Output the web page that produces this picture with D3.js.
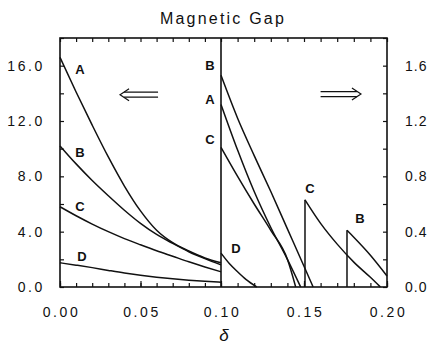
<!DOCTYPE html>
<html>
<head>
<meta charset="utf-8">
<script src="https://cdn.jsdelivr.net/npm/d3@7"></script>
<style>
  body { margin: 0; background: #fff; }
  svg text { font-family: "Liberation Sans", Arial, sans-serif; fill: #111; }
</style>
</head>
<body>
<div id="gapPlot"></div>
<script>
// Left panel (delta 0 - 0.10), left axis
const deltaLeft = [0, 0.01, 0.02, 0.03, 0.04, 0.05, 0.06, 0.07, 0.08, 0.09, 0.10];
const gapA = [16.6, 14.1, 11.7, 9.4, 7.3, 5.5, 4.1, 3.2, 2.6, 2.1, 1.75];
const gapB = [10.2, 8.9, 7.7, 6.6, 5.55, 4.6, 3.8, 3.15, 2.55, 2.05, 1.6];
const gapC = [5.8, 5.15, 4.55, 4.0, 3.5, 3.05, 2.62, 2.22, 1.82, 1.45, 1.1];
const gapD = [1.75, 1.58, 1.4, 1.2, 1.01, 0.85, 0.71, 0.59, 0.49, 0.41, 0.35];

// Right panel (delta 0.10 - 0.20), right axis
const deltaRightA = [0.10, 0.11, 0.12, 0.13, 0.14, 0.148];
const gapRightA = [1.32, 0.99, 0.69, 0.43, 0.2, 0.0];
const deltaRightB = [0.10, 0.11, 0.12, 0.13, 0.14, 0.15, 0.1555];
const gapRightB = [1.53, 1.22, 0.95, 0.69, 0.42, 0.15, 0.0];
const deltaRightC = [0.10, 0.11, 0.12, 0.13, 0.14, 0.145];
const gapRightC = [1.01, 0.8, 0.6, 0.41, 0.2, 0.0];
const deltaRightD = [0.10, 0.105, 0.11, 0.115, 0.1215];
const gapRightD = [0.245, 0.17, 0.11, 0.055, 0.0];
const deltaJumpC = [0.1506, 0.16, 0.17, 0.18, 0.19, 0.196];
const gapJumpC = [0.63, 0.46, 0.31, 0.18, 0.07, 0.0];
const deltaJumpB = [0.1759, 0.18, 0.19, 0.20];
const gapJumpB = [0.41, 0.36, 0.23, 0.08];

// Tick labels
const xTicks = [0, 0.05, 0.10, 0.15, 0.20];
const leftTicks = [0, 4, 8, 12, 16];
const rightTicks = [0, 0.4, 0.8, 1.2, 1.6];

const width = 429, height = 349;
const plot = { left: 60, top: 38, right: 387, bottom: 287 };

const svg = d3.select("#gapPlot")
  .append("svg")
  .attr("width", width)
  .attr("height", height);

// the scan is slightly uneven, so the x scale is piecewise
const x = d3.scaleLinear().domain([0, 0.1, 0.2]).range([plot.left, 221, plot.right]);
const yL = d3.scaleLinear().domain([0, 18]).range([plot.bottom, plot.top]);
const yR = d3.scaleLinear().domain([0, 1.8]).range([plot.bottom, plot.top]);

// title
svg.append("text")
  .attr("x", 223).attr("y", 24)
  .attr("text-anchor", "middle")
  .style("font-size", "16px")
  .style("letter-spacing", "2.2px")
  .text("Magnetic Gap");

// tick marks (inward) on all four sides
const minorX = d3.range(0, 0.2001, 0.01);
const minorL = d3.range(0, 18.01, 2);
const minorR = d3.range(0, 1.801, 0.2);

const tickAxis = (axis, transform) => {
  const g = svg.append("g").attr("transform", transform).call(axis);
  g.select(".domain").remove();
  g.selectAll("line").attr("stroke", "#111").attr("stroke-width", 1.2);
  g.selectAll("text").remove();
};
tickAxis(d3.axisBottom(x).tickValues(minorX).tickSize(-4), `translate(0,${plot.bottom})`);
tickAxis(d3.axisTop(x).tickValues(minorX).tickSize(-4), `translate(0,${plot.top})`);
tickAxis(d3.axisBottom(x).tickValues(xTicks).tickSize(-6), `translate(0,${plot.bottom})`);
tickAxis(d3.axisLeft(yL).tickValues(minorL).tickSize(-4), `translate(${plot.left},0)`);
tickAxis(d3.axisRight(yR).tickValues(minorR).tickSize(-4), `translate(${plot.right},0)`);

// tick labels
const labelAxis = (axis, transform, spacing) => {
  const g = svg.append("g").attr("transform", transform).call(axis);
  g.select(".domain").remove();
  g.selectAll("line").remove();
  g.selectAll("text")
    .attr("fill", "#111")
    .style("font-family", "'Liberation Sans', Arial, sans-serif")
    .style("font-size", "14px")
    .style("letter-spacing", spacing);
  return g;
};
labelAxis(d3.axisBottom(x).tickValues(xTicks).tickFormat(d3.format(".2f")).tickSize(0).tickPadding(20),
  `translate(1,${plot.bottom})`, "2.6px");
labelAxis(d3.axisLeft(yL).tickValues(leftTicks).tickFormat(d3.format(".1f")).tickSize(0).tickPadding(15),
  `translate(${plot.left},0)`, "2.6px");
labelAxis(d3.axisRight(yR).tickValues(rightTicks).tickFormat(d3.format(".1f")).tickSize(0).tickPadding(18),
  `translate(${plot.right},0)`, "1px");

// x axis title
svg.append("text")
  .attr("x", 224).attr("y", 341)
  .attr("text-anchor", "middle")
  .style("font-size", "17px")
  .style("font-style", "italic")
  .text("δ");

// frame and panel divider
svg.append("rect")
  .attr("x", plot.left).attr("y", plot.top)
  .attr("width", plot.right - plot.left).attr("height", plot.bottom - plot.top)
  .attr("fill", "none").attr("stroke", "#111").attr("stroke-width", 1.6);
svg.append("line")
  .attr("x1", x(0.1)).attr("x2", x(0.1))
  .attr("y1", plot.top).attr("y2", plot.bottom)
  .attr("stroke", "#111").attr("stroke-width", 1.6);

// curves
const drawCurve = (xs, ys, yScale) => {
  const pts = xs.map((d, i) => [d, ys[i]]);
  svg.append("path")
    .datum(pts)
    .attr("fill", "none")
    .attr("stroke", "#111")
    .attr("stroke-width", 1.5)
    .attr("d", d3.line()
      .x(d => x(d[0]))
      .y(d => yScale(d[1]))
      .curve(d3.curveMonotoneX));
};
drawCurve(deltaLeft, gapA, yL);
drawCurve(deltaLeft, gapB, yL);
drawCurve(deltaLeft, gapC, yL);
drawCurve(deltaLeft, gapD, yL);
drawCurve(deltaRightA, gapRightA, yR);
drawCurve(deltaRightB, gapRightB, yR);
drawCurve(deltaRightC, gapRightC, yR);
drawCurve(deltaRightD, gapRightD, yR);
drawCurve(deltaJumpC, gapJumpC, yR);
drawCurve(deltaJumpB, gapJumpB, yR);

// vertical jumps where the gap reopens
[[deltaJumpC, gapJumpC], [deltaJumpB, gapJumpB]].forEach(([xs, ys]) => {
  svg.append("line")
    .attr("x1", x(xs[0])).attr("x2", x(xs[0]))
    .attr("y1", yR(0)).attr("y2", yR(ys[0]))
    .attr("stroke", "#111").attr("stroke-width", 1.5);
});

// curve labels: [text, delta, value, scale]
const curveLabels = [
  ["A", 0.0124, 15.7, yL], ["B", 0.0124, 9.75, yL], ["C", 0.0124, 5.85, yL], ["D", 0.0137, 2.2, yL],
  ["B", 0.0932, 1.6, yR], ["A", 0.0932, 1.36, yR], ["C", 0.0932, 1.07, yR],
  ["D", 0.109, 0.28, yR], ["C", 0.1536, 0.71, yR], ["B", 0.1837, 0.5, yR]
];
svg.selectAll(".curve-label")
  .data(curveLabels)
  .enter()
  .append("text")
  .attr("class", "curve-label")
  .attr("x", d => x(d[1]))
  .attr("y", d => d[3](d[2]))
  .attr("dy", "0.36em")
  .attr("text-anchor", "middle")
  .style("font-size", "13px")
  .style("font-weight", "bold")
  .text(d => d[0]);

// double arrows
const doubleArrow = (x0, x1, yPix) => {
  const dir = Math.sign(x1 - x0);
  const g = svg.append("g").attr("fill", "none").attr("stroke", "#111").attr("stroke-width", 1.2);
  [-2.5, 2.5].forEach(off => {
    g.append("line")
      .attr("x1", x0).attr("x2", x1 - dir * 4)
      .attr("y1", yPix + off).attr("y2", yPix + off);
  });
  g.append("path")
    .attr("d", `M${x1 - dir * 9},${yPix - 6} L${x1},${yPix} L${x1 - dir * 9},${yPix + 6}`);
};
doubleArrow(x(0.0609), x(0.0373), yL(13.9));
doubleArrow(x(0.160), x(0.1843), yR(1.395));
</script>
</body>
</html>
